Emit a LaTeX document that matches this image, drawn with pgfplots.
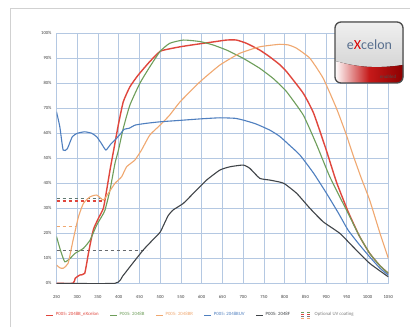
\documentclass[border=0pt]{standalone}
\usepackage{pgfplots}
\pgfplotsset{compat=1.18}
\usepackage{fontspec}
\setmainfont{Carlito}
\definecolor{cred}{HTML}{E0463C}
\definecolor{cgreen}{HTML}{6E9E5A}
\definecolor{corange}{HTML}{F0A870}
\definecolor{cblue}{HTML}{4F7FBF}
\definecolor{cblack}{HTML}{404448}
\definecolor{cgrid}{HTML}{B4C8E2}
\definecolor{cuv}{HTML}{607870}
\begin{document}
\begin{tikzpicture}[x=1pt,y=1pt]
\useasboundingbox (0,0) rectangle (410,327);
\fill[white] (0,0) rectangle (410,327);
\draw[black!18, line width=0.8pt] (10,0) -- (10,319) -- (410,319);
\begin{axis}[at={(56.5pt,43.7pt)}, anchor=south west, scale only axis,
  width=331.8pt, height=250pt,
  xmin=250, xmax=1050, ymin=0, ymax=100,
  xtick={250,300,...,1050}, ytick={0,10,...,100},
  xticklabels={250,300,350,400,450,500,550,600,650,700,750,800,850,900,950,1000,1050},
  yticklabels={0\%,10\%,20\%,30\%,40\%,50\%,60\%,70\%,80\%,90\%,100\%},
  grid=major, grid style={cgrid, line width=0.7pt},
  axis line style={cgrid, line width=0.9pt},
  major tick length=0pt,
  tick label style={font=\fontsize{4.6}{5}\selectfont, text=black!75},
  xticklabel style={yshift=-9pt},
  yticklabel style={xshift=-1.5pt},
  legend style={at={(rel axis cs:0.435,-0.127)}, anchor=center, draw=none, fill=none,
    font=\fontsize{4.8}{5.5}\selectfont, inner sep=0pt,
    /tikz/every even column/.append style={column sep=9pt}},
  legend columns=-1,
  legend image code/.code={\draw[#1, line width=1pt] (0pt,0pt) -- (7pt,0pt);},
]
% optional UV coating dashed lines
\addplot[cuv, dashed, line width=0.7pt, forget plot] coordinates {(250,33.8) (368,33.8)};
\addplot[cred, dashed, line width=1.6pt, forget plot] coordinates {(250,33) (363,33)};
\addplot[corange, dashed, line width=0.9pt, forget plot] coordinates {(250,22.7) (298,22.7)};
\addplot[cblack!80, dashed, line width=0.8pt, forget plot] coordinates {(250,13.3) (467,13.3)};
% red eXcelon
\addplot[cred, line width=1.4pt, smooth, tension=0.3] coordinates {
(250,0) (290,0) (295,2) (306,3.3) (318,4) (327,12) (335,18.7) (340,22) (351,26) (363,30)
(371,37.3) (379,45.3) (387,52.5) (399,63.3) (411,72.6) (427,78.6) (447,83.3) (475,88.7)
(500,92.8) (523,93.8) (548,94.6) (575,95.3) (604,96) (630,96.6) (660,97.3) (684,97.3)
(708,96) (740,93.3) (764,90.6) (788,87.5) (805,84.6) (845,76) (870,68) (900,53.5)
(925,40.5) (953,28.7) (980,19) (1005,12) (1030,7) (1050,4)};
\addlegendentry{\textcolor{cred}{P005: 2048B\_eXcelon}}
% green 2048B
\addplot[cgreen, line width=1.1pt, smooth, tension=0.3] coordinates {
(250,18.7) (260,13) (270,8.6) (283,10) (295,12) (315,14) (331,17.3) (347,23.3) (360,27)
(367,29.3) (379,37.3) (391,48) (399,53) (411,62) (427,71.3) (451,80) (475,86.6) (500,92.8)
(523,96) (556,97.3) (596,96.7) (628,95.3) (660,93.3) (700,90) (740,86) (772,82) (788,79.5)
(805,76.6) (845,67.3) (877,55.5) (909,42.6) (953,28) (980,19) (1005,12) (1030,7) (1050,4)};
\addlegendentry{\textcolor{cgreen}{P005: 2048B}}
% orange 2048BR
\addplot[corange, line width=1.1pt, smooth, tension=0.3] coordinates {
(250,7.3) (258,6.2) (266,6) (278,8) (290,17.3) (303,26.6) (315,32) (331,34.6) (347,35.3)
(363,33.3) (375,36) (391,40) (407,42.6) (419,46.6) (439,49.3) (455,53.3) (475,59.3)
(500,63.3) (523,67.3) (548,72.6) (596,80.6) (644,87.3) (692,92) (740,94.6) (788,95.6)
(810,95.3) (829,94) (861,90) (893,82) (925,70) (949,59.3) (965,51.3) (985,42) (1005,33.3)
(1030,20) (1050,10)};
\addlegendentry{\textcolor{corange}{P005: 2048BR}}
% blue 2048BUV
\addplot[cblue, line width=1.1pt, smooth, tension=0.3] coordinates {
(250,68.6) (258,62.6) (266,53.3) (276,53.8) (288,58.6) (300,60) (318,60.6) (335,60)
(347,58.6) (358,56) (369,53.3) (380,55.5) (392,57.5) (403,59.5) (413,61.6) (425,62)
(440,63.3) (467,64) (500,64.6) (550,65.2) (600,65.8) (644,66.2) (680,66) (700,65.3)
(730,63.8) (764,61.3) (788,58.8) (810,55.5) (837,51.3) (870,44) (901,36) (930,28)
(953,21.3) (980,15.5) (1005,10.6) (1030,6) (1050,3.3)};
\addlegendentry{\textcolor{cblue}{P005: 2048BUV}}
% black 2048F
\addplot[cblack, line width=1.1pt, smooth, tension=0.3] coordinates {
(250,0) (391,0) (410,3) (427,6.6) (459,13.3) (480,17) (500,20.5) (519,27) (531,29.3)
(556,32) (580,36) (612,41.3) (644,45.3) (668,46.6) (700,47.3) (716,46) (740,42) (764,41.3)
(788,40.5) (800,39.8) (829,36) (861,30) (893,24.6) (933,20) (965,14.6) (1005,8) (1050,2.6)};
\addlegendentry{\textcolor{cblack}{P005: 2048F}}
\addlegendimage{legend image code/.code={
  \draw[cgreen, dashed, line width=0.5pt] (0pt,3pt) -- (11pt,3pt);
  \draw[cred, dashed, line width=0.6pt] (0pt,1pt) -- (11pt,1pt);
  \draw[cblack!70, dashed, line width=0.5pt] (0pt,-1pt) -- (11pt,-1pt);
  \draw[corange, dashed, line width=0.5pt] (0pt,-3pt) -- (11pt,-3pt);}}
\addlegendentry{\textcolor{black!50}{Optional UV coating}}
\end{axis}
% logo
\begin{scope}
\fill[rounded corners=6pt, top color=gray!12, bottom color=gray!40] (335,244) rectangle (403,305);
\begin{scope}
\clip[rounded corners=6pt] (335,244) rectangle (403,305);
\fill[left color=white, right color=red!55!black, middle color=red!75!black!90]
  (335,266) .. controls (350,262) and (370,257) .. (403,262) -- (403,244) -- (335,244) -- cycle;
\end{scope}
\draw[line width=1.3pt, black!70, rounded corners=6pt] (335,244) rectangle (403,305);
\node[text=cblue!60!black!80] at (369.5,282) {\fontsize{14}{14}\selectfont e\textcolor{red!85!black}{X}celon};
\node[text=black!70] at (388,250.5) {\fontsize{5}{5}\selectfont\itshape enabled};
\end{scope}
\end{tikzpicture}
\end{document}
